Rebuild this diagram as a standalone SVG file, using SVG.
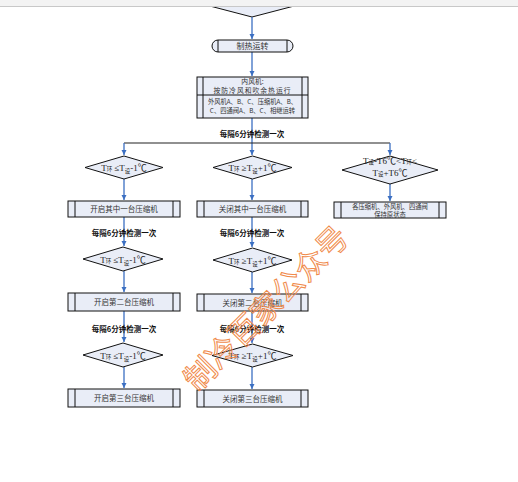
<svg xmlns="http://www.w3.org/2000/svg" width="518" height="482" viewBox="0 0 518 482">
<defs>
<marker id="ah" markerWidth="6" markerHeight="6" refX="5" refY="3" orient="auto" markerUnits="userSpaceOnUse">
<path d="M0,0.5 L5,3 L0,5.5 Z" fill="#3b6fc2"/>
</marker>
<style>
.sh{fill:#e9edf7;stroke:#111;stroke-width:1}
.ln{fill:none;stroke:#111;stroke-width:1}
.c{fill:none;stroke:#3b6fc2;stroke-width:1.3}
.t{font-family:"Noto Sans CJK SC",sans-serif;fill:#333;text-anchor:middle}
.b{font-family:"Noto Sans CJK SC",sans-serif;fill:#111;font-weight:bold;text-anchor:middle;font-size:7.5px}
.d{font-family:"Liberation Serif","Noto Sans CJK SC",serif;fill:#222;text-anchor:middle;font-size:9px}
.s{font-family:"Noto Sans CJK SC",sans-serif;font-size:5.5px}
.wm{font-family:"Noto Sans CJK SC",sans-serif;font-size:31px;fill:none;stroke:#f08a4a;stroke-width:1}
</style>
</defs>
<rect width="518" height="482" fill="#fff"/>

<g id="top-diamond"><polygon class="sh" points="206,5 252,-7 298,5 252,17"/></g>
<rect width="518" height="6" fill="#f3f3f3"/>
<line x1="0" y1="6.5" x2="518" y2="6.5" stroke="#c8c8c8" stroke-width="1"/>

<g id="connectors">
<path class="c" d="M252,17 V39" marker-end="url(#ah)"/>
<path class="c" d="M252,52 V76" marker-end="url(#ah)"/>
<path class="c" d="M252,118 V155" marker-end="url(#ah)"/>
<path d="M124,143 H390" stroke="#222" stroke-width="1.2" fill="none"/>
<path class="c" d="M124,143 V155" marker-end="url(#ah)"/>
<path class="c" d="M390,143 V155" marker-end="url(#ah)"/>
<path class="c" d="M124,179 V200" marker-end="url(#ah)"/>
<path class="c" d="M252,179 V200" marker-end="url(#ah)"/>
<path class="c" d="M390,184 V201" marker-end="url(#ah)"/>
<path class="c" d="M124,217 V246" marker-end="url(#ah)"/>
<path class="c" d="M252,217 V247" marker-end="url(#ah)"/>
<path class="c" d="M124,271 V292" marker-end="url(#ah)"/>
<path class="c" d="M252,272 V293" marker-end="url(#ah)"/>
<path class="c" d="M124,311 V342" marker-end="url(#ah)"/>
<path class="c" d="M252,311 V343" marker-end="url(#ah)"/>
<path class="c" d="M124,367 V388" marker-end="url(#ah)"/>
<path class="c" d="M252,367 V389" marker-end="url(#ah)"/>
</g>

<g id="heat-run">
<rect class="sh" x="212" y="40" width="81" height="12" rx="6"/>
<line class="ln" x1="218" y1="40" x2="218" y2="52"/>
<line class="ln" x1="287" y1="40" x2="287" y2="52"/>
<text class="t" x="252.5" y="49" font-size="8">制热运转</text>
</g>

<g id="indoor-fan">
<rect class="sh" x="197" y="77" width="111" height="41"/>
<line class="ln" x1="203" y1="77" x2="203" y2="118"/>
<line class="ln" x1="302" y1="77" x2="302" y2="118"/>
<line class="ln" x1="197" y1="95" x2="308" y2="95"/>
<text class="t" x="252.5" y="83.5" font-size="6.8">内风机:</text>
<text class="t" x="252.5" y="93" font-size="6.8" letter-spacing="1">按防冷风和吹余热运行</text>
<text class="t" x="252.5" y="104" font-size="6.3">外风机A、B、C、压缩机A、B、</text>
<text class="t" x="252.5" y="113" font-size="6.3">C、四通阀A、B、C、相继运转</text>
</g>

<text class="b" x="252" y="137">每隔6分钟检测一次</text>

<g id="d1-left">
<polygon class="sh" points="85,167.5 124,156 163,167.5 124,179"/>
<text class="d" x="124" y="171">T<tspan class="s">环</tspan> ≤T<tspan class="s" dy="2">设</tspan><tspan dy="-2">-1℃</tspan></text>
</g>
<g id="d1-mid">
<polygon class="sh" points="213,167.5 252.5,156 292,167.5 252.5,179"/>
<text class="d" x="252.5" y="171">T<tspan class="s">环</tspan> ≥T<tspan class="s" dy="2">设</tspan><tspan dy="-2">+1℃</tspan></text>
</g>
<g id="d1-right">
<polygon class="sh" points="342,170 390,156 438,170 390,184"/>
<text class="d" x="390" y="164" font-size="8">T<tspan class="s">设</tspan>-T6℃&lt;T<tspan class="s">环</tspan>&lt;</text>
<text class="d" x="390" y="176" font-size="8">T<tspan class="s">设</tspan>+T6℃</text>
</g>

<g id="b1-left">
<rect class="sh" x="68" y="201" width="112" height="16"/>
<line class="ln" x1="75" y1="201" x2="75" y2="217"/>
<line class="ln" x1="173" y1="201" x2="173" y2="217"/>
<text class="t" x="124" y="212" font-size="7.5">开启其中一台压缩机</text>
</g>
<g id="b1-mid">
<rect class="sh" x="197" y="201" width="111" height="16"/>
<line class="ln" x1="204" y1="201" x2="204" y2="217"/>
<line class="ln" x1="301" y1="201" x2="301" y2="217"/>
<text class="t" x="252.5" y="212" font-size="7.5">关闭其中一台压缩机</text>
</g>
<g id="b1-right">
<rect class="sh" x="334" y="202" width="112" height="16"/>
<line class="ln" x1="341" y1="202" x2="341" y2="218"/>
<line class="ln" x1="439" y1="202" x2="439" y2="218"/>
<text class="t" x="390" y="208.5" font-size="6.3">各压缩机、外风机、四通阀</text>
<text class="t" x="390" y="216.5" font-size="6.3">保持原状态</text>
</g>

<text class="b" x="124" y="236">每隔6分钟检测一次</text>
<text class="b" x="252" y="236">每隔6分钟检测一次</text>

<g id="d2-left">
<polygon class="sh" points="83,259 123,247 163,259 123,271"/>
<text class="d" x="123" y="262.5">T<tspan class="s">环</tspan> ≤T<tspan class="s" dy="2">设</tspan><tspan dy="-2">-1℃</tspan></text>
</g>
<g id="d2-mid">
<polygon class="sh" points="213,260 252.5,248 292,260 252.5,272"/>
<text class="d" x="252.5" y="263.5">T<tspan class="s">环</tspan> ≥T<tspan class="s" dy="2">设</tspan><tspan dy="-2">+1℃</tspan></text>
</g>

<g id="b2-left">
<rect class="sh" x="68" y="293" width="112" height="18"/>
<line class="ln" x1="75" y1="293" x2="75" y2="311"/>
<line class="ln" x1="173" y1="293" x2="173" y2="311"/>
<text class="t" x="124" y="305" font-size="7.5">开启第二台压缩机</text>
</g>
<g id="b2-mid">
<rect class="sh" x="197" y="294" width="111" height="17"/>
<line class="ln" x1="204" y1="294" x2="204" y2="311"/>
<line class="ln" x1="301" y1="294" x2="301" y2="311"/>
<text class="t" x="252.5" y="305.5" font-size="7.5">关闭第二台压缩机</text>
</g>

<text class="b" x="124" y="332">每隔6分钟检测一次</text>
<text class="b" x="252" y="332">每隔6分钟检测一次</text>

<g id="d3-left">
<polygon class="sh" points="83,355 123,343 163,355 123,367"/>
<text class="d" x="123" y="358.5">T<tspan class="s">环</tspan> ≤T<tspan class="s" dy="2">设</tspan><tspan dy="-2">-1℃</tspan></text>
</g>
<g id="d3-mid">
<polygon class="sh" points="212,355.5 252.5,344 293,355.5 252.5,367"/>
<text class="d" x="252.5" y="359">T<tspan class="s">环</tspan> ≥T<tspan class="s" dy="2">设</tspan><tspan dy="-2">+1℃</tspan></text>
</g>

<g id="b3-left">
<rect class="sh" x="68" y="389" width="112" height="18"/>
<line class="ln" x1="75" y1="389" x2="75" y2="407"/>
<line class="ln" x1="173" y1="389" x2="173" y2="407"/>
<text class="t" x="124" y="401" font-size="7.5">开启第三台压缩机</text>
</g>
<g id="b3-mid">
<rect class="sh" x="197" y="390" width="111" height="17"/>
<line class="ln" x1="204" y1="390" x2="204" y2="407"/>
<line class="ln" x1="301" y1="390" x2="301" y2="407"/>
<text class="t" x="252.5" y="401.5" font-size="7.5">关闭第三台压缩机</text>
</g>

<text class="wm" x="0" y="0" text-anchor="middle" transform="translate(274,316) rotate(-45)">制冷百家公众号</text>
</svg>
